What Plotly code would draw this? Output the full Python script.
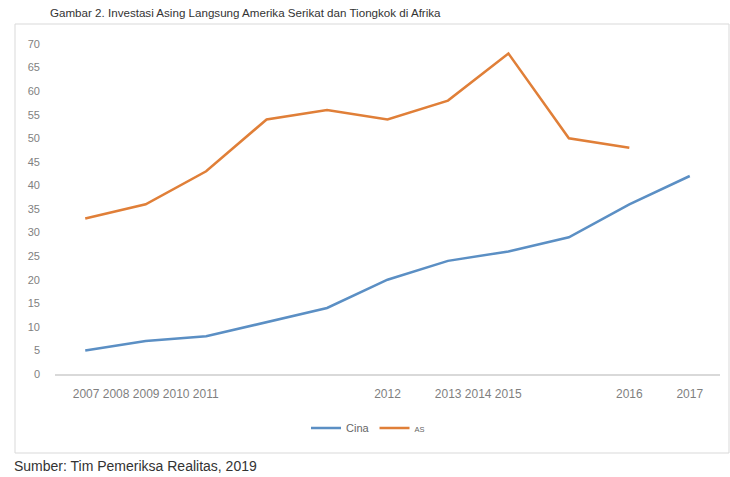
import plotly.graph_objects as go

years = [2007, 2008, 2009, 2010, 2011, 2012, 2013, 2014, 2015, 2016, 2017]
cina = [5, 7, 8, 11, 14, 20, 24, 26, 29, 36, 42]
as_years = [2007, 2008, 2009, 2010, 2011, 2012, 2013, 2014, 2015, 2016]
as_vals = [33, 36, 43, 54, 56, 54, 58, 68, 50, 48]

tick_pos = [2008, 2012, 2013.5, 2016, 2017]
tick_text = ["2007 2008 2009 2010 2011", "2012", "2013 2014 2015", "2016", "2017"]
y_ticks = list(range(0, 75, 5))

title_text = "Gambar 2. Investasi Asing Langsung Amerika Serikat dan Tiongkok di Afrika"
source_text = "Sumber: Tim Pemeriksa Realitas, 2019"

W, H = 730, 477
L, R, T, B = 55, 10, 44, 103
pw, ph = W - L - R, H - T - B


def px_x(p):
    return (p - L) / pw


def px_y(p):
    return 1 - (p - T) / ph


fig = go.Figure()
fig.add_trace(go.Scatter(x=years, y=cina, mode="lines", name="Cina",
                         line=dict(color="#5b8fc4", width=2.5)))
fig.add_trace(go.Scatter(x=as_years, y=as_vals, mode="lines",
                         name="<span style='font-size:7.5px'>AS</span>",
                         line=dict(color="#e07f38", width=2.5)))

fig.update_layout(
    width=W, height=H,
    margin=dict(l=L, r=R, t=T, b=B),
    paper_bgcolor="white", plot_bgcolor="white",
    font=dict(family="Liberation Sans, Arial, sans-serif", color="#7f7f7f", size=11),
    showlegend=True,
    legend=dict(orientation="h", x=px_x(368), xanchor="center", y=px_y(428), yanchor="middle",
                font=dict(size=11, color="#666666"), itemwidth=30, tracegroupgap=0),
    xaxis=dict(range=[2006.5, 2017.5], tickmode="array", tickvals=tick_pos, ticktext=tick_text,
               showgrid=False, zeroline=False, showline=True, linecolor="#d9d9d9", linewidth=1.5,
               ticks="", tickfont=dict(size=12, color="#7f7f7f"), ticklabelstandoff=8),
    yaxis=dict(range=[0, 70], tickmode="array", tickvals=y_ticks,
               showgrid=False, zeroline=False, showline=False, ticks="",
               tickfont=dict(size=11, color="#7f7f7f"), ticklabelstandoff=14),
)

fig.add_shape(type="rect", xref="paper", yref="paper",
              x0=px_x(15), x1=px_x(729), y0=px_y(453), y1=px_y(24),
              line=dict(color="#d9d9d9", width=1), layer="below")

fig.add_annotation(text=title_text, xref="paper", yref="paper", x=px_x(48), y=px_y(13),
                   xanchor="left", yanchor="middle", showarrow=False,
                   font=dict(size=11.6, color="#333333"))
fig.add_annotation(text=source_text, xref="paper", yref="paper", x=px_x(12), y=px_y(466),
                   xanchor="left", yanchor="middle", showarrow=False,
                   font=dict(size=14, color="#333333"))

fig.write_html("out.html")
